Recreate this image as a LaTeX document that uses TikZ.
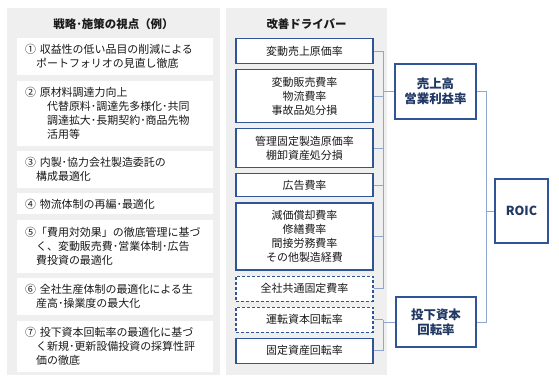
\documentclass[tikz,border=0pt]{standalone}
\usepackage{fontspec}
\setmainfont{Noto Sans CJK JP}
\usetikzlibrary{positioning}
\definecolor{drvBlue}{HTML}{2F5597}
\definecolor{drvDark}{HTML}{203864}
\definecolor{drvLine}{HTML}{8FA6CF}
\definecolor{drvPanel}{HTML}{EFEFEF}
\definecolor{drvText}{HTML}{1A1A1A}

\begin{document}
\begin{tikzpicture}[x=1bp,y=-1bp,font=\fontsize{11}{14}\selectfont,
        ttl/.style={font=\fontsize{11.5}{14}\selectfont\bfseries,text=drvText},
        lbox/.style={fill=white,text=drvText,text width=180bp,inner xsep=8bp,
                   inner ysep=0pt,align=left},
        mbox/.style={fill=white,draw=drvBlue,line width=1.1bp,text=drvText,
                   minimum width=137bp,inner ysep=0pt,align=center},
        dbox/.style={mbox,dash pattern=on 3bp off 2bp},
        kpi/.style={fill=white,draw=drvBlue,line width=1.1bp,text=drvDark,inner sep=0pt,
                   font=\fontsize{12.5}{15}\selectfont\bfseries,align=center},
        conn/.style={draw=drvLine,line width=0.8bp}]
        \useasboundingbox (0,0) rectangle (559,382);
        \fill[drvPanel] (7,8) rectangle (220,375);
        \fill[drvPanel] (226,8) rectangle (387,375);
        \node[ttl] (lt) at (113.5,24) {戦略･施策の視点（例）};
        \node[ttl] (mt) at (306.5,24) {改善ドライバー};
        \node[lbox,minimum height=37bp,anchor=north west] (s1) at (17,38)
            {① 収益性の低い品目の削減による\\\hspace*{1em}ポートフォリオの見直し徹底};
        \node[lbox,minimum height=65bp,below=5bp of s1] (s2)
            {② 原材料調達力向上\\\hspace*{2em}代替原料･調達先多様化･共同\\\hspace*{2em}調達拡大･長期契約･商品先物\\\hspace*{2em}活用等};
        \node[lbox,minimum height=37bp,below=5bp of s2] (s3)
            {③ 内製･協力会社製造委託の\\\hspace*{1em}構成最適化};
        \node[lbox,minimum height=21bp,below=5bp of s3] (s4)
            {④ 物流体制の再編･最適化};
        \node[lbox,minimum height=53bp,below=5bp of s4] (s5)
            {⑤「費用対効果」の徹底管理に基づ\\\hspace*{1em}く、変動販売費･営業体制･広告\\\hspace*{1em}費投資の最適化};
        \node[lbox,minimum height=37bp,below=5bp of s5] (s6)
            {⑥ 全社生産体制の最適化による生\\\hspace*{1em}産高･操業度の最大化};
        \node[lbox,minimum height=51bp,below=5bp of s6] (s7)
            {⑦ 投下資本回転率の最適化に基づ\\\hspace*{1em}く新規･更新設備投資の採算性評\\\hspace*{1em}価の徹底};
        \node[mbox,minimum height=25bp,anchor=north] (m1) at (304.5,38) {変動売上原価率};
        \node[mbox,minimum height=53bp,below=5bp of m1] (m2) {変動販売費率\\物流費率\\事故品処分損};
        \node[mbox,minimum height=39bp,below=5bp of m2] (m3) {管理固定製造原価率\\棚卸資産処分損};
        \node[mbox,minimum height=23bp,below=5bp of m3] (m4) {広告費率};
        \node[mbox,minimum height=67bp,below=5bp of m4] (m5) {減価償却費率\\修繕費率\\間接労務費率\\その他製造経費};
        \node[dbox,minimum height=25bp,below=5bp of m5] (m6) {全社共通固定費率};
        \node[dbox,minimum height=25bp,below=5bp of m6] (m7) {運転資本回転率};
        \node[mbox,minimum height=25bp,below=5bp of m7] (m8) {固定資産回転率};
        \node[kpi,minimum width=81bp,minimum height=55bp] (opm) at (435.5,91.5) {売上高\\営業利益率};
        \node[kpi,minimum width=80bp,minimum height=50bp] (ict) at (436,322) {投下資本\\回転率};
        \node[kpi,minimum width=53bp,minimum height=64bp] (roic) at (521.5,211) {ROIC};
        \coordinate (busA) at (383,0);
        \coordinate (busB) at (486,0);
        \foreach \n in {m1,m2,m3,m4,m5,m6,m7,m8}
            \draw[conn] (\n.east) -- (\n.east -| busA);
        \draw[conn] (m1.east -| busA) -- (m6.east -| busA);
        \draw[conn] (m7.east -| busA) -- (m8.east -| busA);
        \draw[conn] (busA |- opm.west) -- (opm.west);
        \draw[conn] (busA |- ict.west) -- (ict.west);
        \draw[conn] (opm.east) -- (opm.east -| busB) -- (ict.east -| busB) -- (ict.east);
        \draw[conn] (busB |- roic.west) -- (roic.west);
      \end{tikzpicture}
\end{document}
